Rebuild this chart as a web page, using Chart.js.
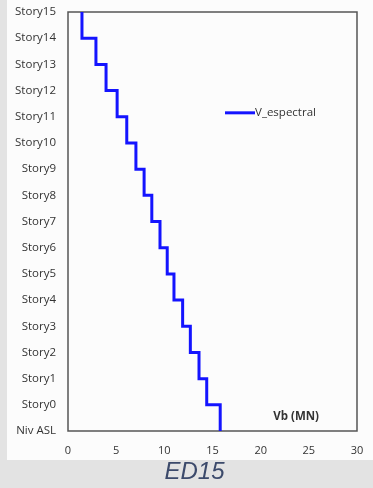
<!DOCTYPE html>
<html>
<head>
<meta charset="utf-8">
<script src="https://cdn.jsdelivr.net/npm/chart.js@4.4.1/dist/chart.umd.min.js"></script>
<style>
  html,body{margin:0;padding:0;}
  body{width:373px;height:488px;background:#e3e3e3;position:relative;overflow:hidden;font-family:"Liberation Sans",Arial,sans-serif;}
  #wrap{position:absolute;left:7px;top:0;width:366px;height:460px;background:#fcfcfc;}
  #caption{position:absolute;left:8px;width:373px;top:457px;text-align:center;font-family:"Liberation Sans",Arial,sans-serif;font-style:italic;font-size:24px;color:#3c4a6b;}
</style>
</head>
<body>
<div id="wrap"><canvas id="c" width="366" height="460"></canvas></div>
<div id="caption">ED15</div>
<script>
// Level labels from bottom (index 0) to top (index 16)
const levelLabels = ['Niv ASL','Story0','Story1','Story2','Story3','Story4','Story5','Story6','Story7','Story8','Story9','Story10','Story11','Story12','Story13','Story14','Story15'];
// Storey shear V_espectral (MN) at each level, same order
const shearMN = [15.8, 15.8, 14.4, 13.6, 12.7, 11.9, 11.0, 10.3, 9.55, 8.7, 7.9, 7.05, 6.1, 5.1, 3.95, 2.9, 1.45];
const xTicks = [0, 5, 10, 15, 20, 25, 30];
const seriesName = 'V_espectral';
const axisTitle = 'Vb (MN)';

const FONT = '"Open Sans", "Liberation Sans", Arial, sans-serif';

const points = [];
for (let i = levelLabels.length - 1; i >= 0; i--) {
  points.push({x: shearMN[i], y: i});
}

const boxPlugin = {
  id: 'box',
  beforeDatasetsDraw(chart) {
    const {ctx, chartArea: a} = chart;
    ctx.save();
    ctx.strokeStyle = '#555';
    ctx.lineWidth = 1.5;
    ctx.strokeRect(a.left, a.top, a.right - a.left, a.bottom - a.top);
    ctx.restore();
  },
  afterDatasetsDraw(chart) {
    const {ctx, chartArea: a} = chart;
    const xs = chart.scales.x, ys = chart.scales.y;
    ctx.save();
    // legend
    const lx = xs.getPixelForValue(16.3), ly = ys.getPixelForValue(12.15);
    ctx.strokeStyle = '#1414ff';
    ctx.lineWidth = 3;
    ctx.beginPath();
    ctx.moveTo(lx, ly);
    ctx.lineTo(lx + 30, ly);
    ctx.stroke();
    ctx.fillStyle = '#333';
    ctx.font = '11.5px ' + FONT;
    ctx.textBaseline = 'middle';
    ctx.textAlign = 'left';
    ctx.fillText(seriesName, lx + 30, ly);
    // axis title inside plot
    ctx.font = 'bold 11.5px ' + FONT;
    ctx.textAlign = 'right';
    ctx.fillText(axisTitle, a.right - 38, ys.getPixelForValue(0.53));
    ctx.restore();
  }
};

new Chart(document.getElementById('c'), {
  type: 'scatter',
  data: {
    datasets: [{
      label: seriesName,
      data: points,
      showLine: true,
      stepped: 'after',
      borderColor: '#1414ff',
      backgroundColor: '#1414ff',
      borderWidth: 3,
      pointRadius: 0,
      fill: false
    }]
  },
  options: {
    responsive: false,
    animation: false,
    devicePixelRatio: 1,
    layout: {padding: {top: 12, right: 16, left: 0, bottom: 0}},
    plugins: {legend: {display: false}, tooltip: {enabled: false}},
    scales: {
      x: {
        type: 'linear', min: 0, max: 30,
        afterBuildTicks: s => { s.ticks = xTicks.map(v => ({value: v})); },
        afterFit: s => { s.height = 29; s.paddingLeft = 0; s.paddingRight = 0; },
        grid: {display: false, drawTicks: false},
        border: {display: false},
        ticks: {padding: 13, color: '#333', font: {size: 11, family: FONT}, maxRotation: 0}
      },
      y: {
        type: 'linear', min: 0, max: levelLabels.length - 1,
        afterBuildTicks: s => { s.ticks = levelLabels.map((l, i) => ({value: i})); },
        afterFit: s => { s.width = 61; s.paddingTop = 0; s.paddingBottom = 0; },
        grid: {display: false, drawTicks: false},
        border: {display: false},
        ticks: {padding: 12, autoSkip: false, color: '#333', font: {size: 11.5, family: FONT}, callback: v => levelLabels[v]}
      }
    }
  },
  plugins: [boxPlugin]
});
</script>
</body>
</html>
